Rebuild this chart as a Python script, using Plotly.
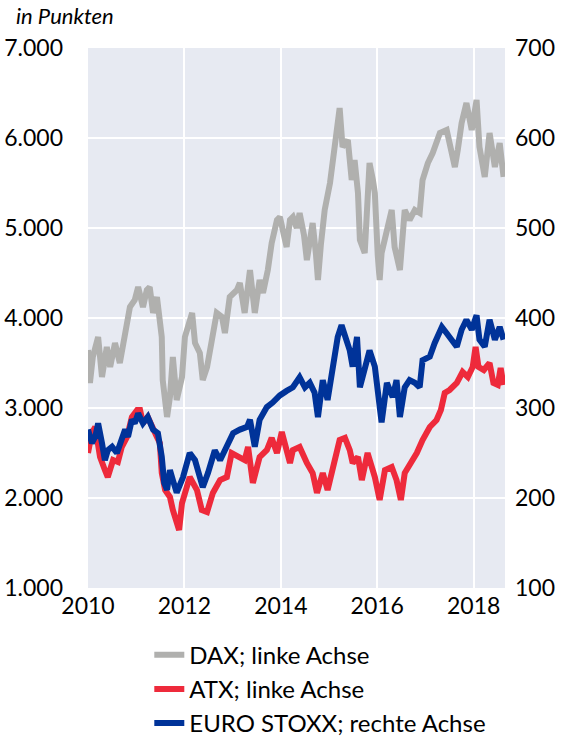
import plotly.graph_objects as go

# ---- data ----
dax_t = [2010.00, 2010.04, 2010.10, 2010.21, 2010.29, 2010.39, 2010.46, 2010.56, 2010.66, 2010.73,
         2010.81, 2010.87, 2010.97, 2011.04, 2011.14, 2011.22, 2011.28, 2011.35, 2011.43, 2011.49,
         2011.53, 2011.55, 2011.64, 2011.70, 2011.76, 2011.84, 2011.95, 2012.01, 2012.16, 2012.22,
         2012.32, 2012.38, 2012.47, 2012.57, 2012.67, 2012.78, 2012.84, 2012.94, 2013.09, 2013.15,
         2013.25, 2013.36, 2013.46, 2013.56, 2013.63, 2013.73, 2013.81, 2013.92, 2013.98, 2014.12,
         2014.19, 2014.25, 2014.33, 2014.39, 2014.48, 2014.54, 2014.60, 2014.66, 2014.73, 2014.77,
         2014.83, 2014.91, 2015.02, 2015.12, 2015.22, 2015.28, 2015.39, 2015.47, 2015.53, 2015.60,
         2015.64, 2015.74, 2015.84, 2015.91, 2015.95, 2016.01, 2016.05, 2016.09, 2016.20, 2016.30,
         2016.36, 2016.47, 2016.57, 2016.67, 2016.78, 2016.88, 2016.94, 2017.05, 2017.15, 2017.30,
         2017.44, 2017.52, 2017.61, 2017.67, 2017.75, 2017.85, 2017.92, 2017.96, 2018.06, 2018.12,
         2018.23, 2018.33, 2018.44, 2018.54, 2018.62]
dax_v = [3644, 3278, 3567, 3789, 3344, 3678, 3456, 3722, 3500, 3722,
         3944, 4122, 4200, 4344, 4122, 4311, 4344, 4056, 4233, 4011,
         3789, 3311, 2900, 3122, 3567, 3089, 3344, 3789, 4056, 3722,
         3611, 3311, 3456, 3756, 4056, 4011, 3833, 4233, 4311, 4389,
         4056, 4533, 4056, 4422, 4278, 4533, 4833, 5089, 5122, 4789,
         5089, 5122, 5000, 5167, 4922, 4644, 4867, 5056, 4700, 4422,
         4811, 5200, 5500, 5978, 6333, 5900, 5978, 5533, 5756, 5389,
         4867, 4722, 5722, 5533, 5389, 4700, 4422, 4722, 4944, 5200,
         4789, 4533, 5200, 5089, 5200, 5167, 5533, 5722, 5833, 6056,
         6089, 5867, 5678, 5867, 6167, 6389, 6200, 6089, 6422, 5900,
         5567, 6056, 5678, 5944, 5567]

atx_t = [2010.00, 2010.08, 2010.15, 2010.25, 2010.35, 2010.41, 2010.52, 2010.62, 2010.70, 2010.81,
         2010.91, 2011.02, 2011.08, 2011.14, 2011.24, 2011.35, 2011.43, 2011.49, 2011.53, 2011.60,
         2011.70, 2011.76, 2011.84, 2011.89, 2011.95, 2012.05, 2012.11, 2012.26, 2012.36, 2012.47,
         2012.59, 2012.74, 2012.88, 2012.98, 2013.15, 2013.25, 2013.32, 2013.42, 2013.56, 2013.71,
         2013.81, 2013.92, 2014.02, 2014.12, 2014.19, 2014.25, 2014.39, 2014.54, 2014.66, 2014.75,
         2014.87, 2014.97, 2015.12, 2015.22, 2015.33, 2015.43, 2015.49, 2015.60, 2015.68, 2015.80,
         2015.95, 2016.05, 2016.16, 2016.30, 2016.40, 2016.49, 2016.57, 2016.67, 2016.82, 2016.94,
         2017.09, 2017.23, 2017.32, 2017.40, 2017.50, 2017.65, 2017.77, 2017.88, 2017.98, 2018.04,
         2018.10, 2018.21, 2018.33, 2018.41, 2018.50, 2018.56, 2018.62]
atx_v = [2500, 2722, 2789, 2456, 2311, 2233, 2422, 2400, 2567, 2678,
         2900, 2978, 2978, 2833, 2900, 2789, 2678, 2611, 2278, 2089,
         2011, 1867, 1722, 1644, 1944, 2122, 2233, 2089, 1867, 1844,
         2056, 2200, 2233, 2500, 2456, 2422, 2567, 2167, 2456, 2533,
         2667, 2500, 2733, 2533, 2389, 2533, 2567, 2389, 2278, 2056,
         2278, 2089, 2456, 2644, 2667, 2533, 2389, 2456, 2200, 2500,
         2233, 1978, 2311, 2344, 2200, 1978, 2278, 2367, 2500, 2644,
         2789, 2867, 2978, 3167, 3200, 3278, 3400, 3344, 3456, 3678,
         3456, 3422, 3500, 3278, 3256, 3444, 3256]

stoxx_t = [2010.00, 2010.08, 2010.15, 2010.21, 2010.29, 2010.35, 2010.41, 2010.50, 2010.60, 2010.70,
           2010.77, 2010.83, 2010.91, 2010.97, 2011.04, 2011.14, 2011.24, 2011.35, 2011.45, 2011.53,
           2011.58, 2011.64, 2011.70, 2011.76, 2011.84, 2011.97, 2012.11, 2012.22, 2012.32, 2012.38,
           2012.49, 2012.63, 2012.74, 2012.88, 2013.01, 2013.15, 2013.30, 2013.36, 2013.46, 2013.56,
           2013.71, 2013.83, 2013.98, 2014.12, 2014.25, 2014.39, 2014.50, 2014.60, 2014.70, 2014.77,
           2014.87, 2014.97, 2015.08, 2015.18, 2015.26, 2015.33, 2015.43, 2015.49, 2015.58, 2015.64,
           2015.74, 2015.84, 2015.95, 2016.05, 2016.09, 2016.20, 2016.32, 2016.40, 2016.47, 2016.57,
           2016.67, 2016.78, 2016.88, 2016.94, 2017.09, 2017.19, 2017.34, 2017.44, 2017.54, 2017.65,
           2017.75, 2017.85, 2017.96, 2018.06, 2018.12, 2018.23, 2018.33, 2018.44, 2018.54, 2018.62]
stoxx_v = [276, 261, 268, 283, 261, 242, 253, 257, 250, 264,
           276, 268, 287, 283, 294, 283, 290, 276, 272, 246,
           217, 209, 231, 220, 206, 223, 250, 242, 223, 212,
           228, 253, 242, 257, 272, 276, 279, 287, 257, 287,
           301, 306, 314, 319, 323, 334, 323, 328, 317, 290,
           331, 309, 350, 379, 392, 379, 364, 346, 379, 323,
           346, 364, 346, 301, 284, 328, 312, 331, 290, 323,
           331, 328, 323, 353, 357, 372, 390, 383, 376, 368,
           387, 398, 387, 403, 376, 368, 398, 376, 390, 376]

left_ticks = [1000, 2000, 3000, 4000, 5000, 6000, 7000]
left_labels = ["1.000", "2.000", "3.000", "4.000", "5.000", "6.000", "7.000"]
right_ticks = [100, 200, 300, 400, 500, 600, 700]
x_ticks = [2010, 2012, 2014, 2016, 2018]

names = ["DAX; linke Achse", "ATX; linke Achse", "EURO STOXX; rechte Achse"]
colors = ["#B0B0AE", "#EE2A3B", "#003399"]

FONT = "Lato"

fig = go.Figure()
fig.add_trace(go.Scatter(x=dax_t, y=dax_v, mode="lines", name=names[0], legendgroup="a",
                         line=dict(color=colors[0], width=6)))
fig.add_trace(go.Scatter(x=atx_t, y=atx_v, mode="lines", name=names[1], legendgroup="b",
                         line=dict(color=colors[1], width=6)))
fig.add_trace(go.Scatter(x=stoxx_t, y=stoxx_v, mode="lines", name=names[2], legendgroup="c",
                         yaxis="y2", line=dict(color=colors[2], width=6)))

fig.update_layout(
    width=568, height=737,
    margin=dict(l=88, r=63, t=48, b=149, autoexpand=False),
    paper_bgcolor="white",
    plot_bgcolor="#E7EAF2",
    font=dict(family=FONT, size=23, color="black"),
    xaxis=dict(range=[2010, 2018.65], tickvals=x_ticks, ticktext=[str(t) for t in x_ticks],
               showgrid=True, gridcolor="white", gridwidth=2, zeroline=False, automargin=False,
               ticks="", showline=False, tickfont=dict(size=23), ticklabelstandoff=2),
    yaxis=dict(range=[1000, 7000], tickvals=left_ticks, ticktext=left_labels, automargin=False,
               showgrid=True, gridcolor="white", gridwidth=2, zeroline=False,
               ticks="", ticklabelstandoff=24, tickfont=dict(size=23)),
    yaxis2=dict(range=[100, 700], tickvals=right_ticks, overlaying="y", side="right",
                automargin=False, showgrid=False, zeroline=False, ticks="", ticklabelstandoff=9,
                tickfont=dict(size=23)),
    showlegend=True,
    legend=dict(orientation="v", x=0.147, xanchor="left", y=-0.0826, yanchor="top",
                font=dict(size=24), tracegroupgap=0, bgcolor="rgba(0,0,0,0)"),
    annotations=[dict(text="<i>in Punkten</i>", xref="paper", yref="paper", x=0, y=1.0,
                      xshift=-74, yshift=33, xanchor="left", yanchor="middle", showarrow=False,
                      font=dict(size=22, family=FONT))],
)

fig.write_html("out.html", config={"displayModeBar": False},
               post_script="document.body.style.margin='0px';")
